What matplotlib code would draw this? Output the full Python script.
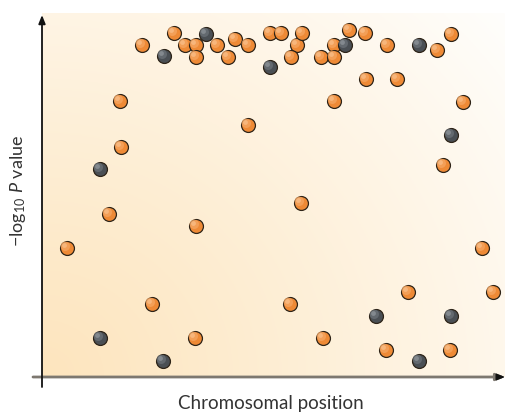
import numpy as np
import matplotlib
matplotlib.use("Agg")
import matplotlib.pyplot as plt
from matplotlib.transforms import ScaledTranslation

plt.rcParams["mathtext.fontset"] = "custom"
plt.rcParams["mathtext.rm"] = "Lato"
plt.rcParams["mathtext.it"] = "Lato:italic"
plt.rcParams["mathtext.bf"] = "Lato:bold"

# Data (arbitrary units: position along chromosome, -log10 p)
orange_x = [25, 67, 79, 78, 100, 132, 143, 154, 154, 175, 186, 193, 206, 206,
            228, 239, 255, 260, 249, 279, 292, 292, 307, 323, 292, 345, 324, 355,
            395, 409, 421, 401, 259, 154, 110, 153, 248, 281, 366, 344, 408, 440, 451]
orange_y = [129, 163, 230, 276, 332, 344, 332, 332, 320, 332, 320, 338, 332, 252,
            344, 344, 332, 344, 320, 320, 332, 320, 347, 344, 276, 332, 298, 298,
            327, 343, 275, 212, 174, 151, 73, 39, 73, 39, 85, 27, 27, 129, 85]
gray_x = [58, 58, 122, 121, 164, 228, 303, 377, 409, 334, 409, 377]
gray_y = [208, 39, 321, 16, 343, 310, 332, 332, 242, 61, 61, 16]

W, H = 505, 412
fig = plt.figure(figsize=(W / 100, H / 100), dpi=100)
fig.patch.set_facecolor("white")
ax = fig.add_axes([42 / W, 35 / H, 463 / W, 364 / H])
ax.set_xlim(0, 463)
ax.set_ylim(0, 364)

# radial gradient background from bottom-left
ny, nx = 200, 260
gx = np.linspace(0, 1, nx)
gy = np.linspace(0, 1, ny)
GX, GY = np.meshgrid(gx, gy)
d = np.sqrt((GX * 1.0) ** 2 + (GY * 0.85) ** 2) / np.sqrt(1 + 0.85 ** 2)
t = np.clip(d, 0, 1) ** 1.1
c0 = np.array([253, 229, 190]) / 255.0
c1 = np.array([255, 254, 252]) / 255.0
img = c0[None, None, :] * (1 - t[..., None]) + c1[None, None, :] * t[..., None]
ax.imshow(img, origin="lower", extent=[0, 463, 0, 364], aspect="auto", zorder=0)

for s in ax.spines.values():
    s.set_visible(False)
ax.set_xticks([])
ax.set_yticks([])

def shiny(xs, ys, base, mid, light, z):
    ax.scatter(xs, ys, s=100, c=base, edgecolors="#2e2418", linewidths=0.9, zorder=z)
    off = ScaledTranslation(-1.2 / 72, 1.2 / 72, fig.dpi_scale_trans)
    ax.scatter(xs, ys, s=45, c=mid, edgecolors="none", zorder=z + 0.1,
               transform=ax.transData + off, alpha=0.8)
    off2 = ScaledTranslation(-1.8 / 72, 1.8 / 72, fig.dpi_scale_trans)
    ax.scatter(xs, ys, s=12, c=light, edgecolors="none", zorder=z + 0.2,
               transform=ax.transData + off2, alpha=0.6)

shiny(orange_x, orange_y, "#ee8a36", "#f5a560", "#fbc795", 3)
shiny(gray_x, gray_y, "#4a4f54", "#6a7076", "#9aa0a5", 4)

# axes with arrows
ax.annotate("", xy=(1.0, 0), xytext=(-9 / 463, 0), xycoords="axes fraction",
            arrowprops=dict(arrowstyle="-|>,head_length=0.5,head_width=0.2",
                            color="#7d7870", lw=2.0, shrinkA=0, shrinkB=0),
            annotation_clip=False, zorder=5)
ax.annotate("", xy=(1.0, 0), xytext=(0.985, 0), xycoords="axes fraction",
            arrowprops=dict(arrowstyle="-|>,head_length=0.5,head_width=0.2",
                            color="#111111", lw=1.0, shrinkA=0, shrinkB=0),
            annotation_clip=False, zorder=6)
ax.annotate("", xy=(0, 362 / 364), xytext=(0, -10 / 364), xycoords="axes fraction",
            arrowprops=dict(arrowstyle="-|>,head_length=0.5,head_width=0.2",
                            color="#111111", lw=1.3, shrinkA=0, shrinkB=0),
            annotation_clip=False, zorder=6)

fig.text(271 / W, 1 - 403 / H, "Chromosomal position", ha="center", va="center",
         fontsize=13.5, color="#333333", family="Lato")
fig.text(18 / W, 1 - 191 / H, r"$-$log$_{10}$ $\it{P}$ value", ha="center", va="center",
         rotation=90, fontsize=13, color="#333333", family="Lato")

fig.savefig("out.png", dpi=100)
